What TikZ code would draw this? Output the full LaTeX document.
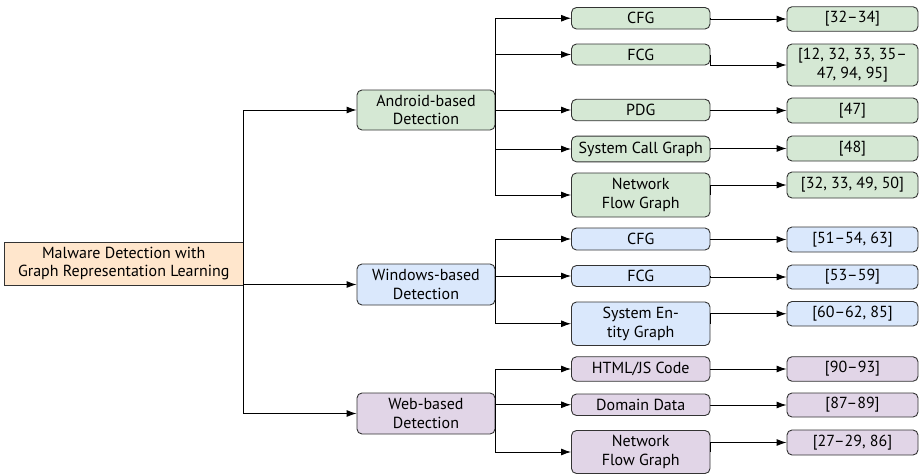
\documentclass[tikz,border=0pt]{standalone}
\usepackage{fontspec}
\setmainfont{PT Sans}
\usetikzlibrary{arrows.meta}
\definecolor{rootfill}{HTML}{FFE6CC}
\definecolor{gfill}{HTML}{D5E8D4}
\definecolor{bfill}{HTML}{DAE8FC}
\definecolor{pfill}{HTML}{E1D5E7}
\tikzset{
  box/.style={draw=black!80, line width=0.9pt, rounded corners=5pt, align=center,
    inner sep=0pt, font=\fontsize{16}{18.5}\selectfont},
  rootbox/.style={box, rounded corners=0pt, fill=rootfill},
  gbox/.style={box, fill=gfill},
  bbox/.style={box, fill=bfill},
  pbox/.style={box, fill=pfill},
  conn/.style={draw=black, line width=0.9pt, -{Latex[length=10pt,width=7pt]}},
}
\newcommand{\bx}[7]{\node[#1, minimum width=#4pt, minimum height=#5pt] (#2) at (#3,#6) {#7};}
\begin{document}
\begin{tikzpicture}[x=1pt,y=-1pt]
\useasboundingbox (0,0) rectangle (921,474);
% root
\bx{rootbox}{root}{123.75}{238.5}{43}{263.5}{Malware Detection with\\Graph Representation Learning}
% level 2
\bx{gbox}{and}{426}{138}{40}{110}{Android-based\\Detection}
\bx{bbox}{win}{426}{138}{41}{284.5}{Windows-based\\Detection}
\bx{pbox}{web}{426}{138}{41}{413.5}{Web-based\\Detection}
% level 3 green
\bx{gbox}{acfg}{640.75}{138.5}{21.5}{18.25}{CFG}
\bx{gbox}{afcg}{640.75}{138.5}{21}{54.5}{FCG}
\bx{gbox}{apdg}{640.75}{138.5}{21.5}{110}{PDG}
\bx{gbox}{ascg}{640.75}{138.5}{25.7}{149}{System Call Graph}
\bx{gbox}{anfg}{640.75}{138.5}{44}{195}{Network\\Flow Graph}
% level 3 blue
\bx{bbox}{wcfg}{640.75}{138.5}{22}{239}{CFG}
\bx{bbox}{wfcg}{640.75}{138.5}{21}{276}{FCG}
\bx{bbox}{wseg}{640.75}{138.5}{43.5}{323.75}{System En-\\tity Graph}
% level 3 purple
\bx{pbox}{bhtml}{640.75}{138.5}{24.5}{369}{HTML/JS Code}
\bx{pbox}{bdom}{640.75}{138.5}{21.5}{404.75}{Domain Data}
\bx{pbox}{bnfg}{640.75}{138.5}{43}{452}{Network\\Flow Graph}
% refs green
\bx{gbox}{r1}{852.5}{131}{24.5}{19}{[32–34]}
\bx{gbox}{r2}{852.5}{131}{42}{65}{[12, 32, 33, 35–\\47, 94, 95]}
\bx{gbox}{r3}{852.5}{131}{25}{110.5}{[47]}
\bx{gbox}{r4}{852.5}{131}{25}{148.5}{[48]}
\bx{gbox}{r5}{852.5}{131}{26}{185}{[32, 33, 49, 50]}
% refs blue
\bx{bbox}{r6}{852.5}{131}{25}{239.5}{[51–54, 63]}
\bx{bbox}{r7}{852.5}{131}{24}{277}{[53–59]}
\bx{bbox}{r8}{852.5}{131}{24.5}{313.75}{[60–62, 85]}
% refs purple
\bx{pbox}{r9}{852.5}{131}{24.5}{369}{[90–93]}
\bx{pbox}{r10}{852.5}{131}{24}{405}{[87–89]}
\bx{pbox}{r11}{852.5}{131}{25}{442.5}{[27–29, 86]}
% connectors
\foreach \c in {and,win,web} \draw[conn] (root.east) |- (\c.west);
\foreach \c in {acfg,afcg,apdg,ascg,anfg} \draw[conn] (and.east) |- (\c.west);
\foreach \c in {wcfg,wfcg,wseg} \draw[conn] (win.east) |- (\c.west);
\foreach \c in {bhtml,bdom,bnfg} \draw[conn] (web.east) |- (\c.west);
\draw[conn] (acfg.east) |- (r1.west);
\draw[conn] (afcg.east) |- (r2.west);
\draw[conn] (apdg.east) |- (r3.west);
\draw[conn] (ascg.east) |- (r4.west);
\draw[conn] (anfg.east) |- (r5.west);
\draw[conn] (wcfg.east) |- (r6.west);
\draw[conn] (wfcg.east) |- (r7.west);
\draw[conn] (wseg.east) |- (r8.west);
\draw[conn] (bhtml.east) |- (r9.west);
\draw[conn] (bdom.east) |- (r10.west);
\draw[conn] (bnfg.east) |- (r11.west);
\end{tikzpicture}
\end{document}
